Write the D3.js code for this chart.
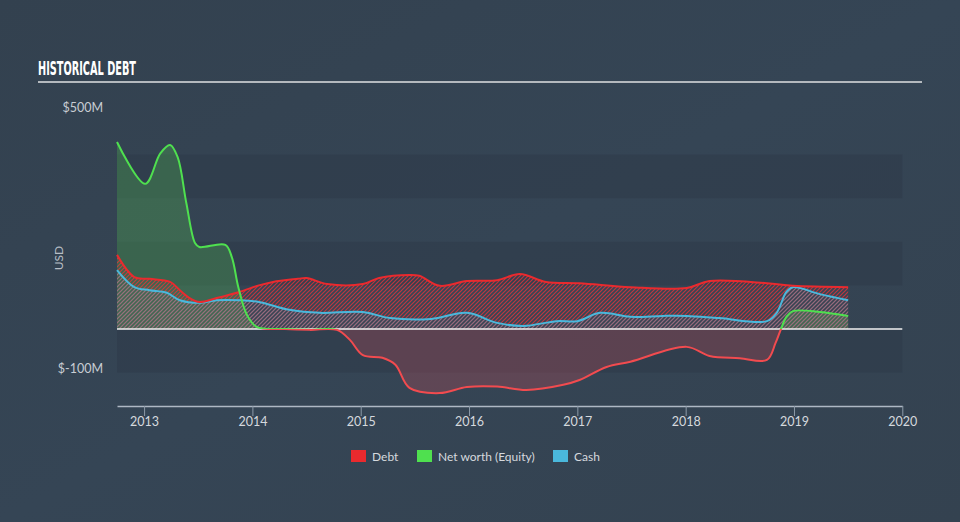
<!DOCTYPE html>
<html><head><meta charset="utf-8">
<script src="https://cdn.jsdelivr.net/npm/d3@7"></script>
<style>
html,body{margin:0;padding:0;background:#344352;}
svg{display:block;}
</style></head>
<body>
<svg id="chart" width="960" height="522"></svg>
<script>
// ---- data (decimal years, values in $M) ----
const debtDates = [2012.75,2012.91,2013.05,2013.24,2013.33,2013.42,2013.51,2013.67,2013.88,2014.06,2014.19,2014.42,2014.50,2014.69,2015.02,2015.17,2015.45,2015.54,2015.73,2015.98,2016.26,2016.47,2016.71,2017.02,2017.49,2018.01,2018.22,2018.75,2018.99,2019.50];
const debtValues = [170,119,115,108,89,71,62,71,85,100,108,115,117,103,103,117,124,122,99,110,112,126,108,105,96,94,110,105,99,96];

const equityDates = [2012.75,2013.01,2013.15,2013.24,2013.31,2013.39,2013.47,2013.51,2013.75,2013.81,2013.87,2013.95,2014.04,2014.30,2014.53,2014.78,2014.90,2015.02,2015.20,2015.32,2015.45,2015.73,2015.98,2016.26,2016.53,2016.87,2017.02,2017.27,2017.49,2018.01,2018.22,2018.50,2018.75,2018.83,2018.88,2018.93,2018.99,2019.24,2019.50];
const equityValues = [429,333,403,422,394,289,197,188,193,165,96,32,5,0,-2,-2,-25,-60,-66,-82,-135,-147,-133,-132,-140,-128,-117,-87,-75,-41,-62,-67,-71,-32,0,28,41,39,30];

const cashDates = [2012.75,2012.91,2013.05,2013.21,2013.33,2013.51,2013.67,2013.88,2014.06,2014.34,2014.62,2015.02,2015.27,2015.65,2015.98,2016.26,2016.50,2016.81,2017.00,2017.21,2017.49,2017.79,2018.01,2018.31,2018.75,2018.84,2018.93,2018.99,2019.24,2019.50];
const cashValues = [135,96,89,83,66,60,66,66,62,44,37,39,25,23,37,14,7,18,18,37,28,30,30,25,18,37,85,96,80,66];

const xTicks = [2013,2014,2015,2016,2017,2018,2019,2020];
const yTickValues = [500,-100];
const yTickLabels = ["$500M","$-100M"];
const legendLabels = ["Debt","Net worth (Equity)","Cash"];
const legendColors = ["#ea2a2e","#4fe04f","#4ab8dc"];

// ---- setup ----
const svg = d3.select("#chart");
const W = 960, H = 522;
const x = d3.scaleLinear().domain([2012.75, 2020]).range([117, 902.3]);
const y = d3.scaleLinear().domain([-100, 500]).range([372.6, 111]);

const defs = svg.append("defs");
const bg = defs.append("linearGradient").attr("id","bg").attr("x1","0").attr("y1","0").attr("x2","1").attr("y2","1");
bg.append("stop").attr("offset","0").attr("stop-color","#33414f");
bg.append("stop").attr("offset","0.5").attr("stop-color","#354555");
bg.append("stop").attr("offset","1").attr("stop-color","#344250");
svg.append("rect").attr("width",W).attr("height",H).attr("fill","url(#bg)");

function hatch(id, color, op){
  const p = defs.append("pattern").attr("id",id).attr("patternUnits","userSpaceOnUse")
    .attr("width",4).attr("height",4);
  p.append("path").attr("d","M-1,1 l2,-2 M0,4 l4,-4 M3,5 l2,-2")
    .attr("stroke",color).attr("stroke-width",1.2).attr("stroke-opacity",op);
}
hatch("hDebt","#f23238",0.72);
hatch("hCash","#5ab8d8",0.42);

defs.append("clipPath").attr("id","above").append("rect")
  .attr("x",0).attr("y",0).attr("width",W).attr("height",y(0));
defs.append("clipPath").attr("id","below").append("rect")
  .attr("x",0).attr("y",y(0)).attr("width",W).attr("height",H-y(0));

// bands
const bandEdges = [[400,300],[200,100],[0,-100]];
svg.append("g").selectAll("rect").data(bandEdges).join("rect")
  .attr("x",x(2012.75)).attr("width",x(2020)-x(2012.75))
  .attr("y",d=>y(d[0])).attr("height",d=>y(d[1])-y(d[0]))
  .attr("fill","#2d3a48").attr("opacity",0.55);

// ---- series ----
const zip = (ds,vs)=>ds.map((d,i)=>({d, v:vs[i]}));
const debt = zip(debtDates, debtValues);
const equity = zip(equityDates, equityValues);
const cash = zip(cashDates, cashValues);

const curve = d3.curveCatmullRom.alpha(0.5);
const area = d3.area().x(p=>x(p.d)).y0(y(0)).y1(p=>y(p.v)).curve(curve);
const line = d3.line().x(p=>x(p.d)).y(p=>y(p.v)).curve(curve);

const g = svg.append("g");
g.append("path").attr("d",area(equity)).attr("fill","rgba(80,180,80,0.32)").attr("clip-path","url(#above)");
g.append("path").attr("d",area(equity)).attr("fill","rgba(230,80,90,0.24)").attr("clip-path","url(#below)");
g.append("path").attr("d",area(debt)).attr("fill","url(#hDebt)");
g.append("path").attr("d",area(cash)).attr("fill","url(#hCash)");

svg.append("line").attr("x1",x(2012.75)).attr("x2",x(2020)).attr("y1",y(0)).attr("y2",y(0))
  .attr("stroke","#f2f2f2").attr("stroke-width",1.5);

g.append("path").attr("d",line(cash)).attr("fill","none").attr("stroke","#4ab8dc").attr("stroke-width",2);
g.append("path").attr("d",line(debt)).attr("fill","none").attr("stroke","#ea2a2e").attr("stroke-width",2);
svg.append("path").attr("d",line(equity)).attr("fill","none").attr("stroke","#4fe04f").attr("stroke-width",2).attr("clip-path","url(#above)");
svg.append("path").attr("d",line(equity)).attr("fill","none").attr("stroke","#f24b4f").attr("stroke-width",2).attr("clip-path","url(#below)");

// ---- axes ----
const xAxis = svg.append("g").attr("transform",`translate(0,${406})`)
  .call(d3.axisBottom(x).tickValues(xTicks).tickFormat(d3.format("d")).tickSize(10).tickSizeOuter(0).tickPadding(1));
xAxis.select(".domain").attr("stroke","#aeb8c4").attr("stroke-width",1.5);
xAxis.selectAll(".tick line").attr("stroke","#8c9aa8");
xAxis.selectAll(".tick text").attr("fill","#d5d9de").attr("font-size","12.5px")
  .attr("font-family","Lato, 'Open Sans', sans-serif");

const yAxis = svg.append("g").attr("transform","translate(103,0)")
  .call(d3.axisLeft(y).tickValues(yTickValues).tickFormat((d,i)=>yTickLabels[i]).tickSize(0).tickPadding(0));
yAxis.select(".domain").remove();
yAxis.selectAll(".tick text").attr("fill","#c8cdd3").attr("font-size","12.5px").attr("dy","0.0em")
  .attr("font-family","Lato, 'Open Sans', sans-serif");

svg.append("text").attr("transform","translate(63,258) rotate(-90)").attr("text-anchor","middle")
  .attr("fill","#b8bec6").attr("font-size","12px").attr("font-family","Lato, 'Open Sans', sans-serif").text("USD");

// ---- title ----
svg.append("text").attr("x",38).attr("y",74.5).attr("fill","#ffffff")
  .attr("font-family","'Liberation Sans Narrow','DejaVu Sans Condensed','Roboto',sans-serif")
  .attr("font-weight","bold").attr("font-size","19px")
  .attr("textLength",98).attr("lengthAdjust","spacingAndGlyphs").text("HISTORICAL DEBT");
svg.append("line").attr("x1",38).attr("x2",922).attr("y1",82).attr("y2",82)
  .attr("stroke","#b4b9be").attr("stroke-width",2);

// ---- legend ----
const legX = [351,417,553];
const leg = svg.append("g").selectAll("g").data(legendLabels).join("g")
  .attr("transform",(d,i)=>`translate(${legX[i]},450)`);
leg.append("rect").attr("width",15).attr("height",12).attr("fill",(d,i)=>legendColors[i]);
leg.append("text").attr("x",21).attr("y",10.5).attr("fill","#d5d9de").attr("font-size","12px")
  .attr("font-family","Lato, 'Open Sans', sans-serif").text(d=>d);
</script>
</body></html>
